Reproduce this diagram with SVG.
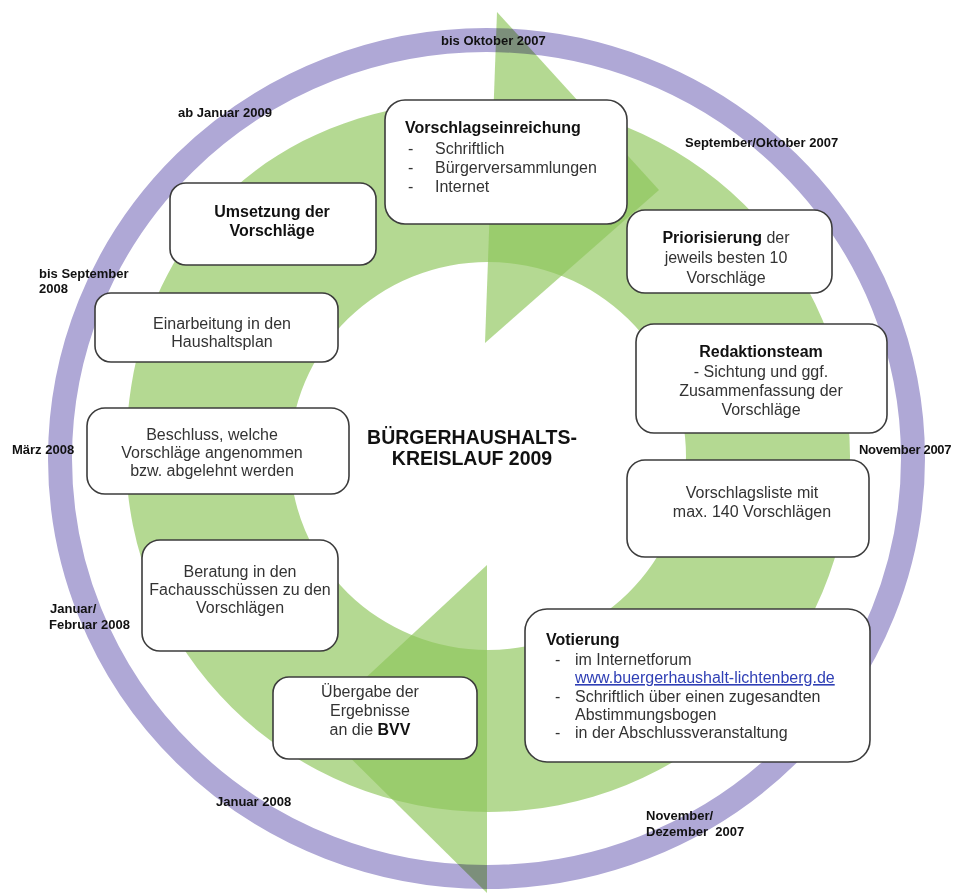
<svg xmlns="http://www.w3.org/2000/svg" width="955" height="893" viewBox="0 0 955 893">
<style>
  .green { fill: #8dc55a; opacity: 0.66; }
  .ring { fill: none; stroke: #afa8d6; stroke-width: 24; mix-blend-mode: multiply; }
  .box { fill: #ffffff; stroke: #3c3c3c; stroke-width: 1.6; }
  text { font-family: "Liberation Sans", Arial, sans-serif; }
  .t { font-size: 16px; fill: #333333; }
  .c { text-anchor: middle; }
  .b { font-weight: bold; fill: #111111; }
  .date { font-size: 13px; font-weight: bold; fill: #111111; white-space: pre; }
  .title { font-size: 19.5px; font-weight: bold; fill: #111111; text-anchor: middle; }
  .link { fill: #2f3fb5; text-decoration: underline; }
</style>
<rect x="0" y="0" width="955" height="893" fill="#ffffff"/>

<g id="connectors">
  <path class="green" fill-rule="evenodd" d="M 488,100 A 362 356 0 0 1 850,456 A 362 356 0 0 1 488,812 A 362 356 0 0 1 126,456 C 126,241 268,100 488,100 Z M 290,456 A 198 194 0 1 1 686,456 A 198 194 0 1 1 290,456 Z"/>
  <polygon class="green" points="497,12 659,190 485,343"/>
  <polygon class="green" points="487,565 487,893 316,724"/>
</g>

<g id="timeline-ring">
  <ellipse class="ring" cx="486.5" cy="458.5" rx="426.5" ry="418.5"/>
</g>

<g id="node-vorschlagseinreichung">
  <rect class="box" x="385" y="100" width="242" height="124" rx="20"/>
  <text class="t b" x="405" y="133">Vorschlagseinreichung</text>
  <text class="t" x="408" y="154">-</text><text class="t" x="435" y="154">Schriftlich</text>
  <text class="t" x="408" y="173">-</text><text class="t" x="435" y="173">Bürgerversammlungen</text>
  <text class="t" x="408" y="192">-</text><text class="t" x="435" y="192">Internet</text>
</g>

<g id="node-priorisierung">
  <rect class="box" x="627" y="210" width="205" height="83" rx="18"/>
  <text class="t c" x="726" y="243"><tspan class="b">Priorisierung</tspan> der</text>
  <text class="t c" x="726" y="263">jeweils besten 10</text>
  <text class="t c" x="726" y="283">Vorschläge</text>
</g>

<g id="node-redaktionsteam">
  <rect class="box" x="636" y="324" width="251" height="109" rx="18"/>
  <text class="t c b" x="761" y="357">Redaktionsteam</text>
  <text class="t c" x="761" y="377">- Sichtung und ggf.</text>
  <text class="t c" x="761" y="396">Zusammenfassung der</text>
  <text class="t c" x="761" y="415">Vorschläge</text>
</g>

<g id="node-vorschlagsliste">
  <rect class="box" x="627" y="460" width="242" height="97" rx="18"/>
  <text class="t c" x="752" y="498">Vorschlagsliste mit</text>
  <text class="t c" x="752" y="517">max. 140 Vorschlägen</text>
</g>

<g id="node-votierung">
  <rect class="box" x="525" y="609" width="345" height="153" rx="22"/>
  <text class="t b" x="546" y="645">Votierung</text>
  <text class="t" x="555" y="665">-</text><text class="t" x="575" y="665">im Internetforum</text>
  <text class="t link" x="575" y="683">www.buergerhaushalt-lichtenberg.de</text>
  <text class="t" x="555" y="702">-</text><text class="t" x="575" y="702">Schriftlich über einen zugesandten</text>
  <text class="t" x="575" y="720">Abstimmungsbogen</text>
  <text class="t" x="555" y="738">-</text><text class="t" x="575" y="738">in der Abschlussveranstaltung</text>
</g>

<g id="node-uebergabe">
  <rect class="box" x="273" y="677" width="204" height="82" rx="16"/>
  <text class="t c" x="370" y="697">Übergabe der</text>
  <text class="t c" x="370" y="716">Ergebnisse</text>
  <text class="t c" x="370" y="735">an die <tspan class="b">BVV</tspan></text>
</g>

<g id="node-beratung">
  <rect class="box" x="142" y="540" width="196" height="111" rx="18"/>
  <text class="t c" x="240" y="577">Beratung in den</text>
  <text class="t c" x="240" y="595">Fachausschüssen zu den</text>
  <text class="t c" x="240" y="613">Vorschlägen</text>
</g>

<g id="node-beschluss">
  <rect class="box" x="87" y="408" width="262" height="86" rx="18"/>
  <text class="t c" x="212" y="440">Beschluss, welche</text>
  <text class="t c" x="212" y="458">Vorschläge angenommen</text>
  <text class="t c" x="212" y="476">bzw. abgelehnt werden</text>
</g>

<g id="node-einarbeitung">
  <rect class="box" x="95" y="293" width="243" height="69" rx="16"/>
  <text class="t c" x="222" y="329">Einarbeitung in den</text>
  <text class="t c" x="222" y="347">Haushaltsplan</text>
</g>

<g id="node-umsetzung">
  <rect class="box" x="170" y="183" width="206" height="82" rx="16"/>
  <text class="t c b" x="272" y="217">Umsetzung der</text>
  <text class="t c b" x="272" y="236">Vorschläge</text>
</g>

<g id="center-title">
  <text class="title" x="472" y="444">BÜRGERHAUSHALTS-</text>
  <text class="title" x="472" y="465">KREISLAUF 2009</text>
</g>

<g id="date-labels">
  <text class="date" x="441" y="45">bis Oktober 2007</text>
  <text class="date" x="685" y="147">September/Oktober 2007</text>
  <text class="date" x="859" y="454" letter-spacing="-0.3">November 2007</text>
  <text class="date" x="646" y="820">November/</text>
  <text class="date" x="646" y="836">Dezember  2007</text>
  <text class="date" x="216" y="806">Januar 2008</text>
  <text class="date" x="50" y="613">Januar/</text>
  <text class="date" x="49" y="629">Februar 2008</text>
  <text class="date" x="12" y="454">März 2008</text>
  <text class="date" x="39" y="278">bis September</text>
  <text class="date" x="39" y="293">2008</text>
  <text class="date" x="178" y="117">ab Januar 2009</text>
</g>
</svg>
